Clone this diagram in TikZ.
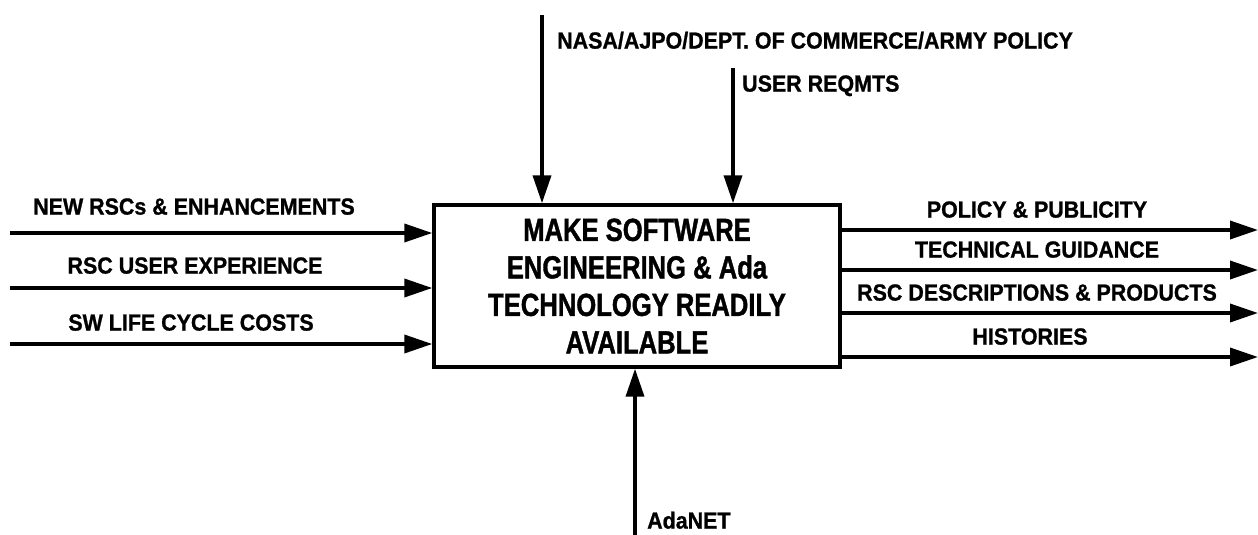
\documentclass[tikz,border=0pt]{standalone}
\usepackage{fontspec}
\newfontfamily\boxfont{Liberation Sans}[FakeStretch=0.8,BoldFeatures={FakeBold=1.2}]
\newfontfamily\lblfont{Liberation Sans}[FakeStretch=0.92,BoldFeatures={FakeBold=1}]
\usetikzlibrary{arrows.meta}
\begin{document}
\begin{tikzpicture}[x=1pt,y=-1pt,
  flow/.style={line width=3.6pt,-{Triangle[length=28pt,width=18pt]}},
  lbl/.style={font=\lblfont\bfseries\fontsize{23.3}{25}\selectfont,text height=0.72em,text depth=0pt,inner sep=0pt},
  mainbox/.style={draw,line width=3.4pt,minimum width=406pt,minimum height=162pt,inner sep=0pt,align=center,
    font=\boxfont\bfseries\fontsize{32}{37.5}\selectfont}]
\useasboundingbox (0,0) rectangle (1258,535);
\node[mainbox] (box) at (637,286) {MAKE SOFTWARE\\ENGINEERING \& Ada\\TECHNOLOGY READILY\\AVAILABLE};
% left inputs
\coordinate (i1) at (10,233);
\coordinate (i2) at (10,288);
\coordinate (i3) at (10,344);
\draw[flow] (i1) -- (i1 -| box.west);
\draw[flow] (i2) -- (i2 -| box.west);
\draw[flow] (i3) -- (i3 -| box.west);
\node[lbl] (li1) at (194,211) {NEW RSCs \& ENHANCEMENTS};
\node[lbl] (li2) at (195,270) {RSC USER EXPERIENCE};
\node[lbl] (li3) at (191,327) {SW LIFE CYCLE COSTS};
% right outputs
\coordinate (o1) at (1258,230);
\coordinate (o2) at (1258,270);
\coordinate (o3) at (1258,313);
\coordinate (o4) at (1258,357);
\draw[flow] (o1 -| box.east) -- (o1);
\draw[flow] (o2 -| box.east) -- (o2);
\draw[flow] (o3 -| box.east) -- (o3);
\draw[flow] (o4 -| box.east) -- (o4);
\node[lbl] (lo1) at (1037,214) {POLICY \& PUBLICITY};
\node[lbl] (lo2) at (1037,254) {TECHNICAL GUIDANCE};
\node[lbl] (lo3) at (1037,297) {RSC DESCRIPTIONS \& PRODUCTS};
\node[lbl] (lo4) at (1030,341) {HISTORIES};
% top controls
\coordinate (c1) at (542,15);
\coordinate (c2) at (733,68);
\draw[flow] (c1) -- (c1 |- box.north);
\draw[flow] (c2) -- (c2 |- box.north);
\node[lbl,anchor=west] (lc1) at (557,45) {NASA/AJPO/DEPT. OF COMMERCE/ARMY POLICY};
\node[lbl,anchor=west] (lc2) at (742,88) {USER REQMTS};
% bottom mechanism
\coordinate (m1) at (635,535);
\draw[flow] (m1) -- (m1 |- box.south);
\node[lbl,anchor=west] (lm1) at (647,525) {AdaNET};
\end{tikzpicture}
\end{document}
